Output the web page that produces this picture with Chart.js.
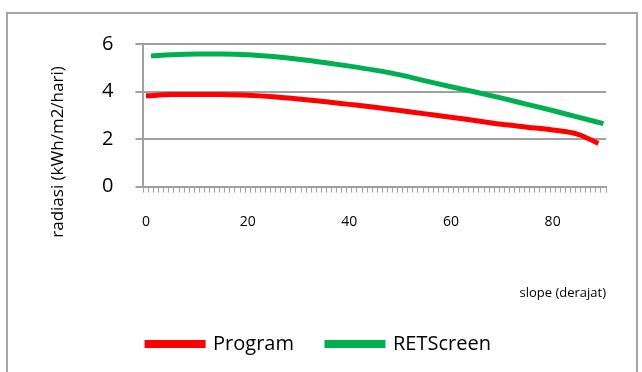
<!DOCTYPE html>
<html>
<head>
<meta charset="utf-8">
<script src="https://cdn.jsdelivr.net/npm/chart.js@4"></script>
<style>
  html, body { margin: 0; padding: 0; background: #fff; }
  #wrap { position: relative; width: 642px; height: 372px; overflow: hidden; }
  #frame { position: absolute; left: 6px; top: 12px; width: 628px; height: 380px; border: 2px solid #a6a6a6; }
  #chart { position: absolute; left: 0; top: 0; }
</style>
</head>
<body>
<div id="wrap">
  <div id="frame"></div>
  <canvas id="chart" width="642" height="372"></canvas>
</div>
<script>
// slope categories 0..90 degrees (one tick per degree)
const slopes = [];
for (let d = 0; d <= 90; d++) slopes.push(String(d));
const xLabels = ["0", "20", "40", "60", "80"];
const yTicks = [0, 2, 4, 6];

// values, every 5 degrees
const programSlope = [0, 5, 10, 15, 20, 25, 30, 35, 40, 45, 50, 55, 60, 65, 70, 75, 80, 85, 89];
const programValues = [3.82, 3.87, 3.88, 3.87, 3.84, 3.78, 3.69, 3.58, 3.46, 3.34, 3.2, 3.06, 2.92, 2.77, 2.62, 2.5, 2.38, 2.2, 1.82];
const retSlope = [1, 5, 10, 15, 20, 25, 30, 35, 40, 45, 50, 55, 60, 65, 70, 75, 80, 85, 90];
const retValues = [5.5, 5.55, 5.58, 5.58, 5.55, 5.47, 5.36, 5.22, 5.07, 4.9, 4.7, 4.45, 4.2, 3.97, 3.72, 3.46, 3.2, 2.92, 2.65];

const FONT = "'Open Sans', 'Liberation Sans', sans-serif";
const GRID = "#a0a0a0";
const Y_TITLE = "radiasi (kWh/m2/hari)";

function toPoints(xs, ys) {
  return xs.map((x, i) => ({ x: String(x), y: ys[i] }));
}

// y axis title sits lower than the plot centre in the original, so draw it by hand
const yTitlePlugin = {
  id: "yTitle",
  afterDraw(chart) {
    const c = chart.ctx;
    c.save();
    c.translate(58, 152);
    c.rotate(-Math.PI / 2);
    c.fillStyle = "#000";
    c.font = "17px " + FONT;
    c.textAlign = "center";
    c.textBaseline = "middle";
    c.fillText(Y_TITLE, 0, 0);
    c.restore();
  }
};

// legend in the original is a bit left of the plot centre
const legendShift = {
  id: "legendShift",
  afterLayout(chart) {
    chart.legend.left -= 24;
    chart.legend.right -= 24;
  }
};

const ctx = document.getElementById("chart").getContext("2d");
new Chart(ctx, {
  type: "line",
  data: {
    labels: slopes,
    datasets: [{
      label: "Program",
      data: toPoints(programSlope, programValues),
      borderColor: "#ff0000",
      backgroundColor: "#ff0000",
      borderWidth: 5,
      pointRadius: 0,
      tension: 0.4,
      cubicInterpolationMode: "monotone"
    }, {
      label: "RETScreen",
      data: toPoints(retSlope, retValues),
      borderColor: "#00b050",
      backgroundColor: "#00b050",
      borderWidth: 5,
      pointRadius: 0,
      tension: 0.4,
      cubicInterpolationMode: "monotone"
    }]
  },
  options: {
    responsive: false,
    animation: false,
    layout: { padding: { left: 80, right: 36, top: 44, bottom: 8 } },
    plugins: {
      tooltip: { enabled: false },
      legend: {
        position: "bottom",
        labels: {
          boxWidth: 56,
          boxHeight: 3,
          padding: 33,
          color: "#000",
          font: { family: FONT, size: 20 }
        }
      }
    },
    scales: {
      x: {
        type: "category",
        offset: true,
        grid: { offset: true, drawOnChartArea: false, tickLength: 6, color: GRID, lineWidth: 1 },
        border: { color: GRID, width: 2 },
        ticks: {
          autoSkip: false,
          maxRotation: 0,
          minRotation: 0,
          padding: 21,
          color: "#000",
          font: { family: FONT, size: 14 },
          callback: function (value) {
            const lab = this.getLabelForValue(value);
            return xLabels.includes(lab) ? lab : "";
          }
        },
        title: {
          display: true,
          text: "slope (derajat)",
          align: "end",
          color: "#000",
          font: { family: FONT, size: 13 },
          padding: { top: 34, bottom: 0 }
        }
      },
      y: {
        min: 0,
        max: 6,
        afterBuildTicks: axis => { axis.ticks = yTicks.map(v => ({ value: v })); },
        grid: { color: GRID, lineWidth: 2, tickLength: 8 },
        border: { color: GRID, width: 2 },
        ticks: {
          padding: 22,
          color: "#000",
          font: { family: FONT, size: 20 }
        }
      }
    }
  },
  plugins: [yTitlePlugin, legendShift]
});
</script>
</body>
</html>
